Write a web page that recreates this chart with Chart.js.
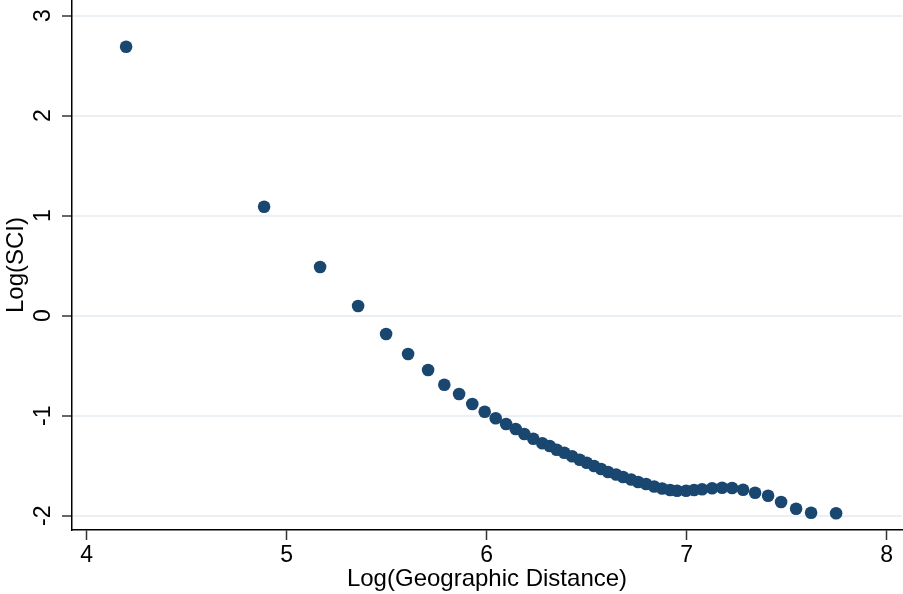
<!DOCTYPE html>
<html>
<head>
<meta charset="utf-8">
<title>Log(SCI) vs Log(Geographic Distance)</title>
<script src="https://cdn.jsdelivr.net/npm/chart.js@4"></script>
<style>
    html, body { margin: 0; padding: 0; background: #ffffff; }
    #chart { display: block; }
</style>
</head>
<body>
<canvas id="chart" width="903" height="594"></canvas>
<script>
// Binned scatter: log distance (x) vs log SCI (y)
var logDistance = [
    4.197, 4.887, 5.167, 5.357, 5.497, 5.607, 5.707, 5.788, 5.862, 5.928,
    5.990, 6.045, 6.097, 6.145, 6.188, 6.233, 6.278, 6.315, 6.350, 6.388,
    6.427, 6.465, 6.500, 6.537, 6.572, 6.607, 6.647, 6.682, 6.722, 6.757,
    6.797, 6.837, 6.877, 6.917, 6.952, 6.997, 7.037, 7.077, 7.127, 7.177,
    7.227, 7.282, 7.342, 7.407, 7.472, 7.547, 7.622, 7.747
];
var logSCI = [
    2.69, 1.09, 0.487, 0.097, -0.183, -0.383, -0.543, -0.690, -0.783, -0.883,
    -0.960, -1.026, -1.083, -1.133, -1.183, -1.230, -1.276, -1.303, -1.340, -1.370,
    -1.406, -1.440, -1.470, -1.503, -1.533, -1.563, -1.588, -1.613, -1.638, -1.663,
    -1.683, -1.708, -1.728, -1.743, -1.750, -1.750, -1.743, -1.736, -1.726, -1.720,
    -1.723, -1.740, -1.770, -1.800, -1.863, -1.930, -1.970, -1.976
];
var xTicks = [4, 5, 6, 7, 8];
var yTicks = [-2, -1, 0, 1, 2, 3];

var FONT = '"Liberation Sans", Arial, sans-serif';
var MARKER = '#1a476f';
var GRID = '#eaf0f3';

var points = logDistance.map(function(x, i) { return { x: x, y: logSCI[i] }; });

function fixTicks(list) {
    return function(scale) {
        scale.ticks = list.map(function(v) { return { value: v }; });
    };
}

new Chart(document.getElementById('chart'), {
    type: 'scatter',
    data: {
        datasets: [{
            data: points,
            backgroundColor: MARKER,
            borderWidth: 0,
            pointRadius: 6.3,
            pointHoverRadius: 6.3,
        }]
    },
    options: {
        responsive: false,
        animation: false,
        devicePixelRatio: 1,
        layout: {
            autoPadding: false,
            padding: { top: 0, right: 1, bottom: 0, left: 0 }
        },
        plugins: {
            legend: { display: false },
            tooltip: { enabled: false }
        },
        scales: {
            x: {
                type: 'linear',
                min: 3.9265,
                max: 8.0765,
                afterBuildTicks: fixTicks(xTicks),
                afterFit: function(scale) {
                    scale.height = 64;
                    scale.paddingLeft = 0;
                    scale.paddingRight = 0;
                },
                border: { color: '#000000', width: 1.5 },
                grid: {
                    drawOnChartArea: false,
                    tickLength: 10,
                    tickColor: '#333333',
                    tickWidth: 1.5
                },
                ticks: {
                    color: '#000000',
                    padding: 2,
                    maxRotation: 0,
                    font: { family: FONT, size: 23 }
                },
                title: {
                    display: true,
                    text: 'Log(Geographic Distance)',
                    color: '#000000',
                    padding: { top: 0, bottom: 0 },
                    font: { family: FONT, size: 24 }
                }
            },
            y: {
                type: 'linear',
                min: -2.143,
                max: 3.157,
                afterBuildTicks: fixTicks(yTicks),
                afterFit: function(scale) {
                    scale.width = 72;
                    scale.paddingTop = 0;
                    scale.paddingBottom = 0;
                },
                border: { color: '#000000', width: 1.5 },
                grid: {
                    color: GRID,
                    lineWidth: 2,
                    tickLength: 10,
                    tickColor: '#333333',
                    tickWidth: 1.5
                },
                ticks: {
                    color: '#000000',
                    padding: 8,
                    minRotation: 90,
                    maxRotation: 90,
                    crossAlign: 'center',
                    font: { family: FONT, size: 23 }
                },
                title: {
                    display: true,
                    text: 'Log(SCI)',
                    color: '#000000',
                    padding: { top: 2, bottom: 0 },
                    font: { family: FONT, size: 24 }
                }
            }
        }
    }
});
</script>
</body>
</html>
